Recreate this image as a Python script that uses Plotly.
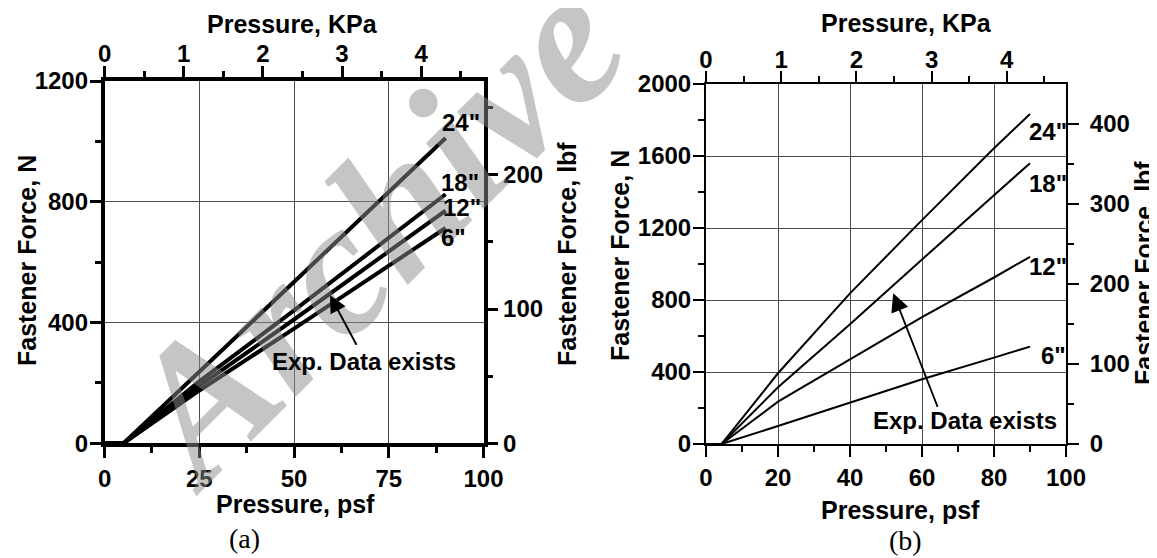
import plotly.graph_objects as go

# ---------------- data ----------------
# panel (a)
psf_a = [0, 5, 25, 50, 90]
a_24 = [0, 0, 237, 535, 1011]
a_18 = [0, 0, 205, 440, 825]
a_12 = [0, 0, 190, 410, 771]
a_6 = [0, 0, 175, 380, 713]
labels_a = ['24"', '18"', '12"', '6"']
label_a_x = [94.0, 93.8, 94.2, 92.0]
label_a_y = [1063, 863, 781, 680]

# panel (b)
psf_b = [0, 4.3, 20, 40, 60, 80, 90]
b_24 = [0, 0, 393, 837, 1244, 1643, 1833]
b_18 = [0, 0, 315, 665, 1025, 1385, 1560]
b_12 = [0, 0, 235, 470, 705, 925, 1040]
b_6 = [0, 0, 100, 230, 360, 480, 541]
labels_b = ['24"', '18"', '12"', '6"']
label_b_x = [95.0, 95.0, 95.0, 96.5]
label_b_y = [1735, 1448, 985, 494]

KPA_PER_PSF = 1 / 20.885
LBF_PER_N = 1 / 4.448

W, H = 1157, 558
OFF = 8  # the page body margin shifts the figure by 8 px
FONT = "Liberation Sans"


def px(x):
    return (x - OFF) / W


def py(y):
    return 1 - (y - OFF) / H


fig = go.Figure()

for ys in [a_24, a_18, a_12, a_6]:
    fig.add_trace(go.Scatter(x=psf_a, y=ys, mode="lines", xaxis="x", yaxis="y",
                             line=dict(color="black", width=4), showlegend=False,
                             hoverinfo="skip"))
for ys in [b_24, b_18, b_12, b_6]:
    fig.add_trace(go.Scatter(x=psf_b, y=ys, mode="lines", xaxis="x3", yaxis="y3",
                             line=dict(color="black", width=2), showlegend=False,
                             hoverinfo="skip"))
# invisible traces so that the secondary (KPa / lbf) axes are drawn
for xa, ya in [("x2", "y2"), ("x4", "y4")]:
    fig.add_trace(go.Scatter(x=[0], y=[0], mode="markers", xaxis=xa, yaxis=ya,
                             marker=dict(opacity=0), showlegend=False,
                             hoverinfo="skip"))

tickfont = dict(family=FONT, size=24, color="black", weight="bold")


def ax(lw, tw, **kw):
    d = dict(showline=True, linecolor="black", linewidth=lw, ticks="outside",
             ticklen=11, tickwidth=tw, tickcolor="black", tickfont=tickfont,
             zeroline=False, showgrid=False, fixedrange=True, automargin=False,
             minor=dict(ticks="outside", ticklen=6, tickwidth=tw, tickcolor="black",
                        showgrid=False))
    d.update(kw)
    if "minor_dtick" in d:
        d["minor"]["dtick"] = d.pop("minor_dtick")
    return d


dom_ax = [px(104.6), px(483.5)]
dom_ay = [py(443.3), py(81)]
dom_bx = [px(706), px(1066)]
dom_by = [py(444), py(84)]

grid = dict(showgrid=True, gridcolor="#4d4d4d", gridwidth=1)

fig.update_layout(
    template="none",
    width=W, height=H,
    margin=dict(l=0, r=0, t=0, b=0, pad=0, autoexpand=False),
    paper_bgcolor="white", plot_bgcolor="rgba(0,0,0,0)",
    showlegend=False,
    # panel a
    xaxis=ax(3.5, 3, domain=dom_ax, anchor="y", range=[0, 100],
             tickmode="linear", tick0=0, dtick=25, minor_dtick=12.5, **grid),
    xaxis2=ax(3.5, 3, overlaying="x", side="top", anchor="y",
              range=[0, 100 * KPA_PER_PSF], tickmode="linear", tick0=0, dtick=1,
              minor_dtick=0.5, ticklabelstandoff=-5),
    yaxis=ax(3.5, 3, domain=dom_ay, anchor="x", range=[0, 1200],
             tickmode="linear", tick0=0, dtick=400, minor_dtick=200,
             ticklabelstandoff=-3, **grid),
    yaxis2=ax(3.5, 3, overlaying="y", side="right", anchor="x",
              range=[0, 1200 * LBF_PER_N], tickmode="linear", tick0=0, dtick=100,
              minor_dtick=50),
    # panel b
    xaxis3=ax(2, 2, domain=dom_bx, anchor="y3", range=[0, 100],
              tickmode="linear", tick0=0, dtick=20, minor_dtick=10, **grid),
    xaxis4=ax(2, 2, overlaying="x3", side="top", anchor="y3",
              range=[0, 100 * KPA_PER_PSF], tickmode="linear", tick0=0, dtick=1,
              minor_dtick=0.5, ticklabelstandoff=-7),
    yaxis3=ax(2, 2, domain=dom_by, anchor="x3", range=[0, 2000],
              tickmode="linear", tick0=0, dtick=400, minor_dtick=200,
              ticklabelstandoff=-3, **grid),
    yaxis4=ax(2, 2, overlaying="y3", side="right", anchor="x3",
              range=[0, 2000 * LBF_PER_N], tickmode="linear", tick0=0, dtick=100,
              minor_dtick=50, ticklabelstandoff=6),
)

ann = []
tfont = dict(family=FONT, size=25, color="black", weight="bold")


def ptext(text, x, y, angle=0, font=tfont):
    ann.append(dict(text=text, x=px(x), y=py(y), xref="paper", yref="paper",
                    showarrow=False, xanchor="center", yanchor="middle",
                    textangle=angle, font=font))


# watermark (drawn first, other texts on top)
ann.append(dict(text="<b><i>Archive</i></b>", x=px(371), y=py(231), xref="paper",
                yref="paper", showarrow=False, xanchor="center", yanchor="middle",
                textangle=-45,
                font=dict(family="Liberation Serif", size=190,
                          color="rgba(140,140,140,0.5)")))

# titles panel a
ptext("Pressure, KPa", 292, 24)
ptext("Pressure, psf", 295, 504)
ptext("Fastener Force, N", 27, 261, -90)
ptext("Fastener Force, lbf", 567, 254, -90)
ptext("(a)", 244, 538, 0, dict(family="Liberation Serif", size=28, color="black"))
# titles panel b
ptext("Pressure, KPa", 906, 23)
ptext("Pressure, psf", 900, 510)
ptext("Fastener Force, N", 620, 256, -90)
ptext("Fastener Force, lbf", 1144, 273, -90)
ptext("(b)", 905, 540, 0, dict(family="Liberation Serif", size=28, color="black"))

lfont = dict(family=FONT, size=24, color="black", weight="bold")
for t, x, y in zip(labels_a, label_a_x, label_a_y):
    ann.append(dict(text=t, x=x, y=y, xref="x", yref="y", showarrow=False,
                    xanchor="center", yanchor="middle", font=lfont))
for t, x, y in zip(labels_b, label_b_x, label_b_y):
    ann.append(dict(text=t, x=x, y=y, xref="x3", yref="y3", showarrow=False,
                    xanchor="center", yanchor="middle", font=lfont))

# arrows + "Exp. Data exists"
ann.append(dict(text="", x=59.5, y=490, xref="x", yref="y", ax=66.7, ay=321,
                axref="x", ayref="y", showarrow=True, arrowhead=2, arrowsize=1.7,
                arrowwidth=2, arrowcolor="black"))
ann.append(dict(text="Exp. Data exists", x=68.4, y=270, xref="x", yref="y",
                showarrow=False, xanchor="center", yanchor="middle", font=lfont))
ann.append(dict(text="", x=52.0, y=837, xref="x3", yref="y3", ax=64.5, ay=198,
                axref="x3", ayref="y3", showarrow=True, arrowhead=2, arrowsize=2,
                arrowwidth=1.8, arrowcolor="black"))
ann.append(dict(text="Exp. Data exists", x=71.9, y=133, xref="x3", yref="y3",
                showarrow=False, xanchor="center", yanchor="middle", font=lfont))

fig.update_layout(annotations=ann)
fig.write_html("out.html")
